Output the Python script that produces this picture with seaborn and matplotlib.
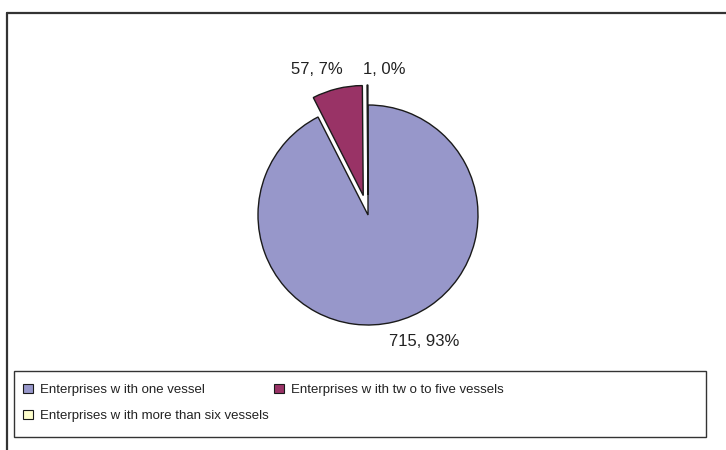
import numpy as np
import matplotlib
matplotlib.use("Agg")
import matplotlib.pyplot as plt
from matplotlib.lines import Line2D
from matplotlib.patches import Rectangle
import seaborn as sns

# data
categories = ["Enterprises w ith one vessel",
              "Enterprises w ith tw o to five vessels",
              "Enterprises w ith more than six vessels"]
counts = [715, 57, 1]
pct_shown = [93, 7, 0]   # percentages as printed on the chart
colors = ["#9797CA", "#993366", "#FFFFCC"]

sns.set_theme(style="white")
plt.rcParams['font.family'] = ['Liberation Sans', 'DejaVu Sans']

W, H = 726, 450
fig = plt.figure(figsize=(W / 100, H / 100), dpi=100)
ax = fig.add_axes([0, 0, 1, 1])

# pie, Excel style: clockwise from 12 o'clock, small slices pulled out
# (explode is in data units here, limits are pixel-like)
wedges, _ = ax.pie(counts, colors=colors, startangle=90, counterclock=False,
                   center=(368, H - 215), radius=110,
                   explode=[0, 20, 20],
                   wedgeprops=dict(edgecolor="#1a1a1a", linewidth=1.0))
# pie() resets the limits, so set them afterwards
ax.set_xlim(0, W)
ax.set_ylim(0, H)
ax.set_aspect("equal")
ax.axis("off")

labels = [f"{c}, {p}%" for c, p in zip(counts, pct_shown)]
label_pos = [(424, H - 342), (317, H - 70), (384, H - 70)]
for lab, (x, y) in zip(labels, label_pos):
    ax.text(x, y, lab, ha="center", va="center", fontsize=12, color="#222222")

# outer frame (top and left lines only visible)
fig.add_artist(Line2D([7 / W, 1.02], [1 - 13 / H, 1 - 13 / H], transform=fig.transFigure,
                      color="#333333", linewidth=1.6))
fig.add_artist(Line2D([7 / W, 7 / W], [-0.02, 1 - 13 / H], transform=fig.transFigure,
                      color="#333333", linewidth=1.6))

# legend box
fig.add_artist(Rectangle((14 / W, 1 - 437 / H), (706 - 14) / W, (437 - 371) / H,
                         transform=fig.transFigure, fill=False,
                         edgecolor="#333333", linewidth=1.0))

order = [0, 2, 1]
leg = fig.legend([wedges[i] for i in order], [categories[i] for i in order],
                 ncol=2, loc="upper left", bbox_to_anchor=(23 / W, 1 - 384 / H),
                 frameon=False, fontsize=9.5, handlelength=0.75, handleheight=0.7,
                 handletextpad=0.55, columnspacing=0.4, labelspacing=1.05,
                 borderpad=0, borderaxespad=0)
for t in leg.get_texts():
    t.set_color("#222222")
for h in leg.legend_handles:
    h.set_linewidth(0.8)

fig.savefig("out.png", dpi=100, facecolor="white")
